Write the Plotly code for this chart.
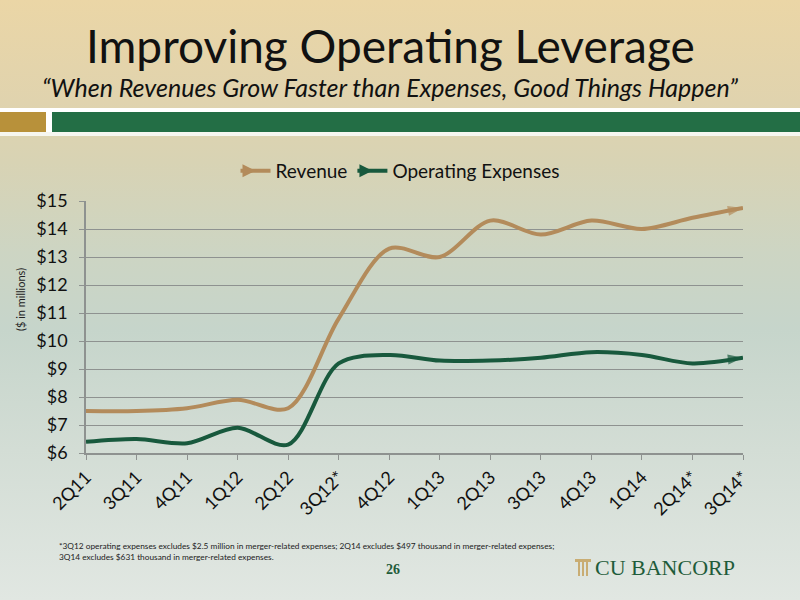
import base64
import plotly.graph_objects as go

quarters = ["2Q11", "3Q11", "4Q11", "1Q12", "2Q12", "3Q12*", "4Q12", "1Q13",
            "2Q13", "3Q13", "4Q13", "1Q14", "2Q14*", "3Q14*"]
revenue = [7.5, 7.5, 7.6, 7.9, 7.6, 10.8, 13.3, 13.0, 14.3, 13.8, 14.3, 14.0, 14.4, 14.75]
opex = [6.4, 6.5, 6.35, 6.9, 6.3, 9.2, 9.5, 9.3, 9.3, 9.4, 9.6, 9.5, 9.2, 9.4]
y_ticks = [6, 7, 8, 9, 10, 11, 12, 13, 14, 15]
y_tick_labels = ["$" + str(v) for v in y_ticks]

REV_COLOR = "#B38B5B"
OPEX_COLOR = "#18593D"
FONT = "Lato"

# page geometry (pixels)
W, H = 800, 600
L, R, T, B = 86, 743, 201, 453
pw, ph = R - L, B - T


def px_x(x):
    return (x - L) / pw


def px_y(y):
    return (B - y) / ph


svg = f"""<svg xmlns='http://www.w3.org/2000/svg' width='{W}' height='{H}' preserveAspectRatio='none'>
<defs><linearGradient id='g' x1='0' y1='0' x2='0' y2='1'>
<stop offset='0' stop-color='#EBD6A6'/>
<stop offset='0.17' stop-color='#E0D3AE'/>
<stop offset='0.27' stop-color='#D8D3B4'/>
<stop offset='0.42' stop-color='#CDD5C3'/>
<stop offset='0.55' stop-color='#C6D5CB'/>
<stop offset='0.75' stop-color='#D3DDD5'/>
<stop offset='1' stop-color='#E1E7E2'/>
</linearGradient></defs>
<rect width='{W}' height='{H}' fill='url(#g)'/>
</svg>"""
src = "data:image/svg+xml;base64," + base64.b64encode(svg.encode()).decode()

n = len(quarters)
fig = go.Figure()
for name, vals, col in [("Revenue", revenue, REV_COLOR), ("Operating Expenses", opex, OPEX_COLOR)]:
    fig.add_trace(go.Scatter(
        x=quarters, y=vals, mode="lines+markers", name=name, showlegend=False,
        line=dict(color=col, width=4, shape="spline", smoothing=0.9),
        marker=dict(symbol="arrow", angleref="previous", angle=0,
                    size=[0] * (n - 1) + [16], color=col, line=dict(width=0)),
        cliponaxis=False, hoverinfo="skip",
    ))
    fig.add_trace(go.Scatter(
        x=[None], y=[None], mode="lines+markers", name=name,
        line=dict(color=col, width=4),
        marker=dict(symbol="arrow-right", size=13, color=col, line=dict(width=0)),
    ))

shapes = [
    dict(type="rect", xref="paper", yref="paper", x0=px_x(0), x1=px_x(W),
         y0=px_y(112), y1=px_y(108), fillcolor="#FFFFFF", line_width=0, layer="below"),
    dict(type="rect", xref="paper", yref="paper", x0=px_x(0), x1=px_x(W),
         y0=px_y(136), y1=px_y(132), fillcolor="#F6F6F0", line_width=0, layer="below"),
    dict(type="rect", xref="paper", yref="paper", x0=px_x(0), x1=px_x(46),
         y0=px_y(132), y1=px_y(112), fillcolor="#B8913A", line_width=0, layer="below"),
    dict(type="rect", xref="paper", yref="paper", x0=px_x(46), x1=px_x(52),
         y0=px_y(132), y1=px_y(112), fillcolor="#FFFFFF", line_width=0, layer="below"),
    dict(type="rect", xref="paper", yref="paper", x0=px_x(52), x1=px_x(W),
         y0=px_y(132), y1=px_y(112), fillcolor="#236E45", line_width=0, layer="below"),
]
# pillar icon of the logo
for i in range(3):
    shapes.append(dict(type="rect", xref="paper", yref="paper",
                       x0=px_x(578 + i * 4), x1=px_x(580 + i * 4),
                       y0=px_y(576), y1=px_y(562), fillcolor="#C9AD73", line_width=0))
shapes.append(dict(type="rect", xref="paper", yref="paper", x0=px_x(575), x1=px_x(591),
                   y0=px_y(562), y1=px_y(559), fillcolor="#C9AD73", line_width=0))

annotations = [
    dict(text="Improving Operating Leverage", x=px_x(390), y=px_y(45), xref="paper", yref="paper",
         showarrow=False, xanchor="center", yanchor="middle",
         font=dict(family=FONT, size=46, color="#111111")),
    dict(text="<i>“When Revenues Grow Faster than Expenses, Good Things Happen”</i>",
         x=px_x(390), y=px_y(87), xref="paper", yref="paper", showarrow=False,
         xanchor="center", yanchor="middle", font=dict(family=FONT, size=25, color="#111111")),
    dict(text="($ in millions)", x=px_x(20), y=px_y(300), xref="paper", yref="paper",
         showarrow=False, textangle=-90, xanchor="center", yanchor="middle",
         font=dict(family=FONT, size=11, color="#222222")),
    dict(text="*3Q12 operating expenses excludes $2.5 million in merger-related expenses; 2Q14 excludes $497 thousand in merger-related expenses;<br>3Q14 excludes $631 thousand in merger-related expenses.",
         x=px_x(57), y=px_y(539), xref="paper", yref="paper", showarrow=False, align="left",
         xanchor="left", yanchor="top", font=dict(family=FONT, size=8.3, color="#222222")),
    dict(text="<b>26</b>", x=px_x(393), y=px_y(569), xref="paper", yref="paper", showarrow=False,
         xanchor="center", yanchor="middle",
         font=dict(family="Liberation Serif", size=14, color="#1F5C3A")),
    dict(text="CU BANCORP", x=px_x(593), y=px_y(567), xref="paper", yref="paper", showarrow=False,
         xanchor="left", yanchor="middle",
         font=dict(family="Liberation Serif", size=22, color="#1F5C3A")),
]

fig.update_layout(
    width=W, height=H,
    margin=dict(l=L, r=W - R, t=T, b=H - B, pad=0),
    paper_bgcolor="#DDE3DD", plot_bgcolor="rgba(0,0,0,0)",
    font=dict(family=FONT, color="#111111"),
    images=[dict(source=src, xref="paper", yref="paper", x=px_x(0), y=px_y(0),
                 sizex=W / pw, sizey=H / ph, sizing="stretch", layer="below",
                 xanchor="left", yanchor="top")],
    shapes=shapes,
    annotations=annotations,
    legend=dict(orientation="h", x=px_x(400), xanchor="center", y=px_y(171), yanchor="middle",
                bgcolor="rgba(0,0,0,0)", font=dict(family=FONT, size=19, color="#111111"),
                itemwidth=30, tracegroupgap=0),
    xaxis=dict(type="category", range=[0, n - 1], showgrid=False, showline=True,
               linecolor="#8E9290", linewidth=1.5, ticks="outside", ticklen=5,
               tickcolor="#8E9290", tickangle=-45, tickfont=dict(family=FONT, size=18, color="#111111"),
               zeroline=False),
    yaxis=dict(range=[6, 15], tickvals=y_ticks, ticktext=y_tick_labels, showgrid=True,
               gridcolor="#8E9290", gridwidth=1.3, showline=True, linecolor="#8E9290",
               linewidth=1.5, ticks="outside", ticklen=5, tickcolor="#8E9290",
               ticklabelstandoff=8,
               tickfont=dict(family=FONT, size=18, color="#111111"), zeroline=False),
    showlegend=True,
)

fig.write_html("out.html", config={"displayModeBar": False},
               post_script="document.body.style.margin='0';document.body.style.overflow='hidden';")
